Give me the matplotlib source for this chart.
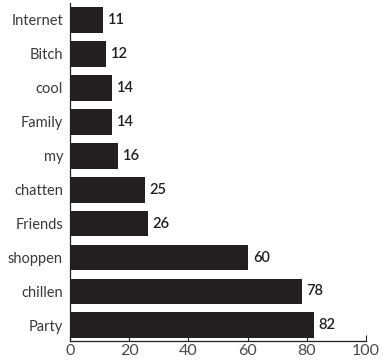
import matplotlib
matplotlib.use('Agg')
import matplotlib.pyplot as plt

categories = ['Party', 'chillen', 'shoppen', 'Friends', 'chatten',
              'my', 'Family', 'cool', 'Bitch', 'Internet']
values = [82, 78, 60, 26, 25, 16, 14, 14, 12, 11]
x_ticks = [0, 20, 40, 60, 80, 100]

plt.rcParams['font.family'] = ['Lato', 'DejaVu Sans']

fig = plt.figure(figsize=(3.83, 3.61), dpi=100)
ax = fig.add_axes([70 / 383, 20 / 361, 296 / 383, 338 / 361])

pos = list(range(len(categories)))
ax.barh(pos, values, height=0.76, color='#231f20', left=0.3)

for p, v in zip(pos, values):
    ax.text(v + 1.8, p, str(v), va='center', ha='left', fontsize=10.5,
            fontweight='semibold', color='#231f20')

ax.set_xlim(0, 100)
ax.set_ylim(-0.46, 9.5)
ax.set_xticks(x_ticks)
ax.set_yticks(pos)
ax.set_yticklabels(categories, fontsize=10.5, color='#3a3a3a')
ax.tick_params(axis='y', length=0, pad=5)
ax.tick_params(axis='x', direction='in', length=4, width=0.8, color='#231f20',
               labelsize=11.5, labelcolor='#4a4a4a', pad=2)

for side in ['top', 'right']:
    ax.spines[side].set_visible(False)
for side in ['left', 'bottom']:
    ax.spines[side].set_color('#231f20')
    ax.spines[side].set_linewidth(0.9)

fig.savefig('out.png', dpi=100)
